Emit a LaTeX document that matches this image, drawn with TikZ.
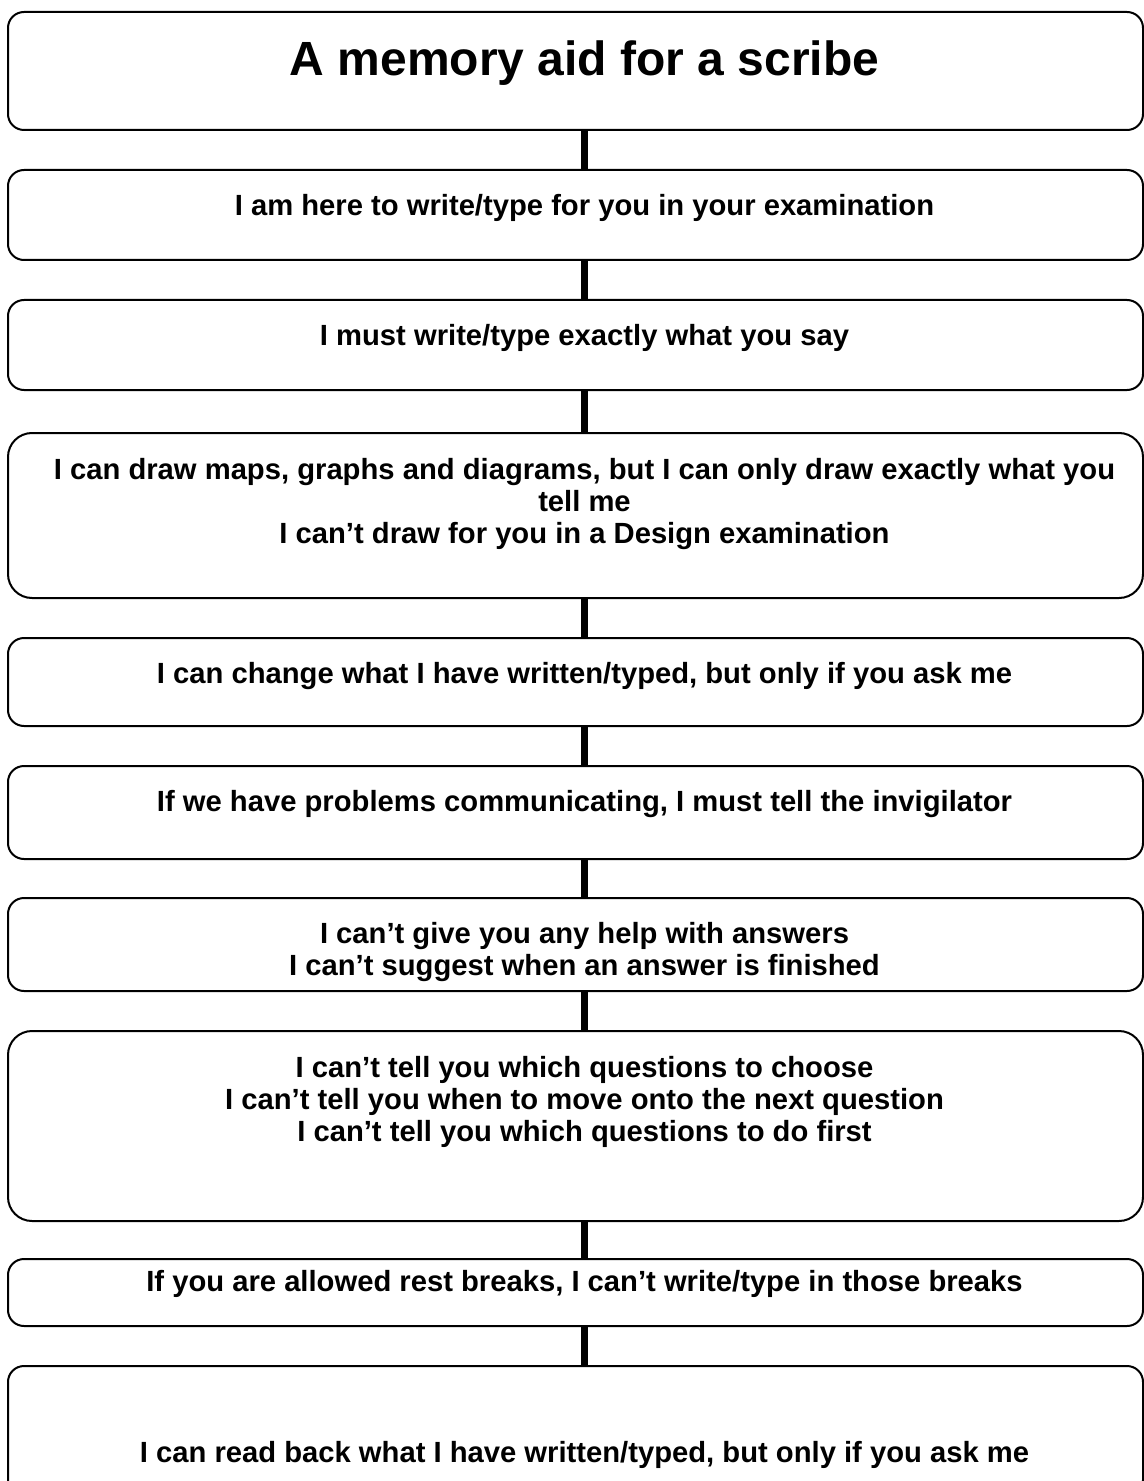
\documentclass[tikz,border=0pt]{standalone}
\usepackage{fontspec}
\setmainfont{Liberation Sans}
\usetikzlibrary{positioning}

\begin{document}
\begin{tikzpicture}[x=0.5pt,y=-0.5pt,
    box/.style={draw=black,line width=1pt,rounded corners=8pt,minimum width=567.5pt,inner sep=0pt,anchor=north},
    txt/.style={align=center,inner sep=0pt,anchor=north,xshift=4.5pt,font=\bfseries\fontsize{14.6}{16}\selectfont},
    link/.style={line width=3.2pt}]
    \useasboundingbox (0,0) rectangle (1144,1481);
    \node[box,minimum height=59pt] (B1) at (575.5,11) {};
    \node[box,minimum height=45pt] (B2) at (575.5,169) {};
    \node[box,minimum height=45pt] (B3) at (575.5,299) {};
    \node[box,minimum height=82.5pt,rounded corners=12pt] (B4) at (575.5,432) {};
    \node[box,minimum height=44pt] (B5) at (575.5,637) {};
    \node[box,minimum height=46.5pt] (B6) at (575.5,765) {};
    \node[box,minimum height=46.5pt] (B7) at (575.5,897) {};
    \node[box,minimum height=95pt,rounded corners=12pt] (B8) at (575.5,1030) {};
    \node[box,minimum height=33.5pt] (B9) at (575.5,1258) {};
    \node[box,minimum height=65pt] (B10) at (575.5,1365) {};
    \node[txt,below=14.5pt of B1.north,font=\bfseries\fontsize{24}{28}\selectfont] (T1) {A memory aid for a scribe};
    \node[txt,below=12.5pt of B2.north] (T2) {I am here to write/type for you in your examination};
    \node[txt,below=12.5pt of B3.north] (T3) {I must write/type exactly what you say};
    \node[txt,below=13pt of B4.north] (T4) {I can draw maps, graphs and diagrams, but I can only draw exactly what you\\tell me\\I can’t draw for you in a Design examination};
    \node[txt,below=12.5pt of B5.north] (T5) {I can change what I have written/typed, but only if you ask me};
    \node[txt,below=12.5pt of B6.north] (T6) {If we have problems communicating, I must tell the invigilator};
    \node[txt,below=12.5pt of B7.north] (T7) {I can’t give you any help with answers\\I can’t suggest when an answer is finished};
    \node[txt,below=13pt of B8.north] (T8) {I can’t tell you which questions to choose\\I can’t tell you when to move onto the next question\\I can’t tell you which questions to do first};
    \node[txt,below=6pt of B9.north] (T9) {If you are allowed rest breaks, I can’t write/type in those breaks};
    \node[txt,below=38pt of B10.north] (T10) {I can read back what I have written/typed, but only if you ask me};
    \path[link] (B1.south -| T1) edge (B2.north -| T1);
    \path[link] (B2.south -| T1) edge (B3.north -| T1);
    \path[link] (B3.south -| T1) edge (B4.north -| T1);
    \path[link] (B4.south -| T1) edge (B5.north -| T1);
    \path[link] (B5.south -| T1) edge (B6.north -| T1);
    \path[link] (B6.south -| T1) edge (B7.north -| T1);
    \path[link] (B7.south -| T1) edge (B8.north -| T1);
    \path[link] (B8.south -| T1) edge (B9.north -| T1);
    \path[link] (B9.south -| T1) edge (B10.north -| T1);
\end{tikzpicture}
\end{document}
